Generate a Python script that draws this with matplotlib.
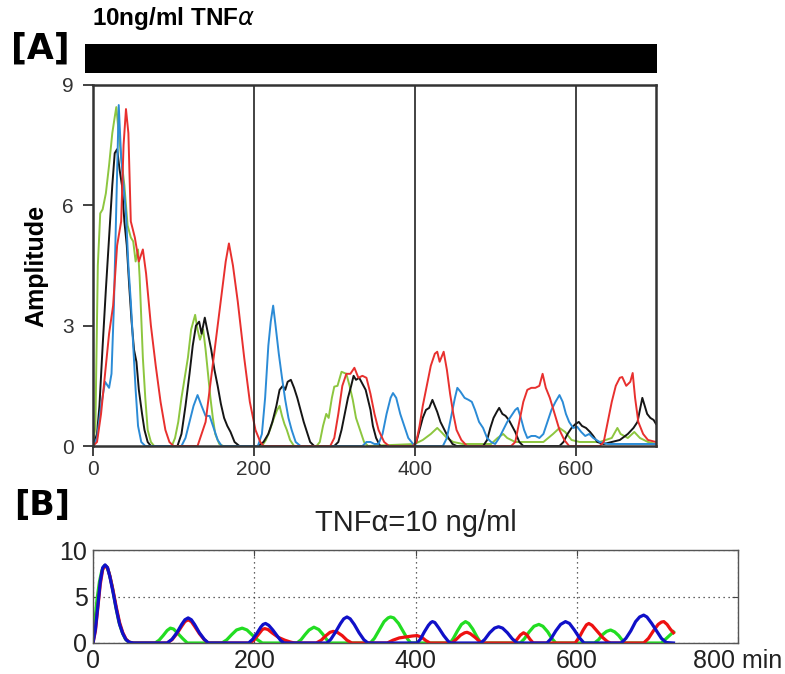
import matplotlib
matplotlib.use("Agg")
import matplotlib.pyplot as plt
from matplotlib.patches import Rectangle

# ---- panel A: measured amplitude traces (time in min) ----
red_t = [0, 5, 10, 15, 20, 25, 30, 35, 38, 41, 44, 47, 52, 57, 62, 66, 72, 78, 84, 90, 95, 100,
         130, 140, 150, 160, 165, 169, 174, 180, 188, 195, 202, 208, 212,
         295, 300, 305, 310, 315, 320, 325, 330, 335, 340, 345, 350, 355, 362, 368,
         398, 402, 406, 410, 415, 420, 425, 428, 431, 436, 440, 444, 448, 452, 458, 465,
         520, 525, 530, 535, 540, 545, 550, 555, 559, 563, 568, 574, 580, 586, 592,
         630, 635, 640, 645, 650, 655, 658, 663, 668, 671, 674, 678, 684, 690, 700]
red_v = [0, 0.1, 0.8, 1.8, 2.8, 3.5, 5.0, 5.6, 7.5, 8.4, 7.8, 5.6, 5.2, 4.6, 4.9, 4.3, 3.0, 2.0, 1.1, 0.4, 0.1, 0,
         0, 0.6, 2.2, 3.8, 4.6, 5.05, 4.5, 3.6, 2.2, 1.1, 0.4, 0.1, 0,
         0, 0.2, 0.8, 1.5, 1.8, 1.8, 1.95, 1.7, 1.75, 1.7, 1.3, 0.8, 0.4, 0.1, 0,
         0, 0.1, 0.5, 1.0, 1.5, 2.0, 2.3, 2.35, 2.1, 2.35, 1.9, 1.3, 0.8, 0.4, 0.15, 0,
         0, 0.1, 0.6, 1.1, 1.4, 1.45, 1.45, 1.5, 1.8, 1.45, 1.2, 0.8, 0.4, 0.15, 0,
         0, 0.1, 0.6, 1.1, 1.5, 1.7, 1.72, 1.5, 1.6, 1.82, 1.2, 0.6, 0.3, 0.15, 0.1]

blue_t = [0, 5, 10, 15, 20, 23, 26, 29, 32, 35, 38, 41, 44, 47, 50, 53, 56, 60, 65,
          110, 115, 120, 125, 130, 135, 140, 145, 150, 155, 160,
          205, 210, 214, 218, 221, 224, 227, 231, 235, 239, 243, 247, 252, 258,
          335, 340, 345, 350, 355, 360, 365, 370, 373, 377, 382, 387, 392, 398, 403,
          435, 440, 445, 450, 453, 457, 462, 467, 471, 475, 480, 485, 490, 495,
          500, 505, 510, 515, 520, 525, 528, 532, 536, 540, 545, 550, 555, 560, 565, 570, 575,
          580, 584, 588, 592, 597, 602, 607, 612, 617, 622, 630, 640, 700]
blue_v = [0, 0.2, 1.0, 1.6, 1.45, 1.8, 3.5, 6.0, 8.5, 7.2, 6.5, 5.8, 4.5, 3.6, 2.5, 1.4, 0.5, 0.1, 0,
          0, 0.2, 0.6, 1.0, 1.27, 1.0, 0.75, 0.75, 0.45, 0.15, 0,
          0, 0.3, 1.2, 2.5, 3.1, 3.5, 3.0, 2.3, 1.7, 1.15, 0.7, 0.4, 0.1, 0,
          0, 0.1, 0.1, 0.05, 0.05, 0.3, 0.8, 1.2, 1.32, 1.2, 0.8, 0.5, 0.2, 0.05, 0,
          0, 0.2, 0.7, 1.2, 1.45, 1.35, 1.2, 1.15, 1.1, 0.9, 0.6, 0.45, 0.2, 0.1,
          0.05, 0.2, 0.4, 0.6, 0.75, 0.9, 0.95, 0.7, 0.4, 0.2, 0.25, 0.25, 0.2, 0.3, 0.6, 0.9, 1.1,
          1.27, 1.1, 0.8, 0.6, 0.45, 0.48, 0.35, 0.25, 0.3, 0.2, 0.1, 0.05, 0.05]

green_t = [0, 3, 6, 9, 12, 16, 20, 24, 27, 29, 32, 35, 39, 43, 47, 50, 53, 56, 58, 60, 62, 65, 68, 72, 76,
           98, 102, 106, 110, 114, 118, 122, 127, 130, 133, 137, 140, 143, 146, 149, 152, 157, 162,
           210, 215, 220, 225, 229, 232, 235, 238, 241, 245, 250,
           278, 282, 286, 290, 293, 297, 300, 304, 309, 315, 319, 323, 327, 332, 337, 342,
           400, 410, 420, 428, 433, 440, 448, 460, 495, 503, 510, 515, 525, 560, 572, 580, 587, 595,
           605, 630, 645, 652, 656, 665, 673, 680, 690, 700]
green_v = [0, 0.5, 4.5, 5.8, 5.9, 6.3, 7.0, 7.8, 8.2, 8.45, 7.8, 7.2, 6.5, 5.5, 5.2, 5.1, 4.6, 4.9, 4.2, 3.2, 2.2, 1.2, 0.4, 0.1, 0,
           0, 0.2, 0.6, 1.2, 1.7, 2.2, 2.9, 3.27, 2.9, 2.65, 2.9, 2.4, 1.8, 1.2, 0.7, 0.3, 0.05, 0,
           0, 0.15, 0.4, 0.7, 0.9, 1.0, 0.75, 0.55, 0.4, 0.15, 0,
           0, 0.1, 0.5, 0.8, 0.7, 1.2, 1.48, 1.5, 1.85, 1.8, 1.5, 1.15, 0.7, 0.4, 0.1, 0,
           0.05, 0.15, 0.3, 0.45, 0.35, 0.2, 0.1, 0.05, 0.05, 0.2, 0.3, 0.2, 0.1, 0.1, 0.3, 0.45, 0.35, 0.15,
           0.1, 0.1, 0.2, 0.45, 0.3, 0.2, 0.35, 0.2, 0.1, 0.05]

black_t = [0, 5, 8, 12, 16, 20, 24, 27, 30, 33, 36, 39, 42, 45, 48, 51, 54, 57, 61, 64, 68, 72,
           105, 110, 115, 120, 124, 128, 132, 135, 139, 143, 147, 151, 155, 159, 163, 167, 171, 176, 182,
           205, 212, 218, 223, 228, 232, 236, 239, 242, 246, 250, 254, 258, 262, 266, 270, 275,
           300, 305, 309, 313, 317, 321, 324, 327, 331, 335, 339, 342, 345, 348, 352, 357,
           398, 402, 406, 410, 414, 418, 422, 425, 428, 432, 437, 442, 447, 452,
           485, 490, 494, 498, 502, 505, 509, 513, 517, 521, 525, 530, 535,
           580, 585, 590, 595, 600, 604, 608, 613, 618, 622, 627, 635,
           645, 655, 665, 672, 677, 680, 683, 686, 689, 693, 697, 700]
black_v = [0, 0.3, 1.0, 2.5, 3.9, 5.2, 6.5, 7.3, 7.4, 6.9, 6.5, 5.6, 5.0, 4.0, 3.1, 2.4, 2.1, 1.4, 0.8, 0.4, 0.1, 0,
           0, 0.3, 1.0, 1.8, 2.5, 3.0, 3.1, 2.8, 3.2, 2.8, 2.4, 1.9, 1.5, 1.05, 0.7, 0.5, 0.35, 0.1, 0,
           0, 0.1, 0.3, 0.6, 1.0, 1.4, 1.5, 1.4, 1.6, 1.65, 1.45, 1.2, 0.9, 0.6, 0.35, 0.1, 0,
           0, 0.1, 0.4, 0.8, 1.2, 1.5, 1.75, 1.65, 1.7, 1.55, 1.4, 1.15, 0.9, 0.5, 0.2, 0,
           0, 0.1, 0.4, 0.7, 0.9, 0.95, 1.15, 1.0, 0.85, 0.6, 0.4, 0.2, 0.05, 0,
           0, 0.15, 0.45, 0.7, 0.85, 0.95, 0.8, 0.75, 0.65, 0.5, 0.35, 0.1, 0,
           0, 0.1, 0.3, 0.45, 0.55, 0.6, 0.5, 0.45, 0.35, 0.25, 0.1, 0.05,
           0.1, 0.15, 0.3, 0.45, 0.6, 0.9, 1.2, 1.0, 0.8, 0.7, 0.65, 0.55]

# ---- panel B: simulation traces ----
simR_t = [0, 3, 6, 9, 12, 15, 18, 21, 25, 29, 33, 37, 41, 45, 50,
          92, 98, 104, 110, 114, 118, 122, 126, 132, 138, 143,
          195, 200, 205, 210, 213, 217, 222, 230, 238, 245, 250,
          277, 283, 289, 294, 298, 303, 309, 315, 321,
          365, 372, 380, 388, 396, 402, 408, 413, 418,
          445, 450, 456, 461, 464, 468, 474, 479, 483,
          522, 526, 530, 534, 538, 542, 546,
          598, 603, 608, 612, 615, 619, 625, 632, 638, 642,
          683, 689, 695, 701, 705, 708, 712, 716, 720]
simR_v = [0, 1.3, 3.8, 6.3, 7.9, 8.3, 8.1, 7.2, 5.6, 3.8, 2.2, 1.1, 0.4, 0.1, 0,
          0, 0.35, 1.0, 1.8, 2.3, 2.5, 2.3, 1.8, 1.0, 0.35, 0,
          0, 0.35, 0.9, 1.45, 1.55, 1.45, 1.1, 0.6, 0.3, 0.1, 0,
          0, 0.3, 0.8, 1.15, 1.25, 1.15, 0.8, 0.3, 0,
          0, 0.3, 0.55, 0.65, 0.75, 0.8, 0.6, 0.25, 0,
          0, 0.35, 0.85, 1.1, 1.15, 1.0, 0.6, 0.2, 0,
          0, 0.4, 0.85, 1.1, 0.9, 0.4, 0,
          0, 0.6, 1.4, 1.95, 2.1, 1.9, 1.3, 0.6, 0.15, 0,
          0, 0.5, 1.3, 2.0, 2.25, 2.3, 2.0, 1.5, 1.1]

simG_t = [0, 2, 5, 8, 11, 14, 17, 20, 24, 28, 32, 36, 40, 44, 50,
          77, 82, 87, 92, 96, 100, 105, 111, 117,
          160, 166, 172, 178, 185, 191, 197, 204, 210,
          253, 258, 263, 268, 274, 280, 285, 290, 294,
          344, 349, 355, 361, 366, 369, 373, 379, 385, 390, 394,
          443, 447, 452, 457, 462, 466, 471, 476, 481,
          530, 535, 541, 547, 553, 558, 564, 569, 574,
          622, 627, 632, 637, 642, 647, 652, 656, 660,
          705, 710, 715, 720]
simG_v = [0, 2.0, 4.7, 6.6, 7.8, 8.3, 8.2, 7.5, 6.0, 4.0, 2.3, 1.2, 0.45, 0.1, 0,
          0, 0.3, 0.8, 1.35, 1.6, 1.5, 1.05, 0.5, 0,
          0, 0.35, 0.9, 1.4, 1.6, 1.4, 0.9, 0.35, 0,
          0, 0.35, 0.9, 1.4, 1.7, 1.45, 0.95, 0.35, 0,
          0, 0.5, 1.4, 2.3, 2.7, 2.8, 2.7, 2.1, 1.2, 0.45, 0,
          0, 0.5, 1.3, 2.0, 2.3, 2.1, 1.5, 0.7, 0,
          0, 0.45, 1.2, 1.8, 2.0, 1.8, 1.2, 0.5, 0,
          0, 0.35, 0.9, 1.25, 1.4, 1.2, 0.8, 0.35, 0,
          0, 0.4, 0.8, 1.2]

simB_t = [0, 3, 6, 9, 12, 15, 18, 21, 25, 29, 33, 37, 41, 45, 50,
          92, 98, 104, 110, 114, 118, 122, 126, 132, 138, 143,
          193, 198, 203, 208, 211, 214, 218, 223, 229, 233, 237,
          290, 295, 301, 307, 311, 315, 319, 324, 330, 336, 341,
          402, 406, 411, 416, 419, 421, 424, 429, 435, 440, 443,
          481, 486, 492, 498, 503, 508, 514, 520, 526,
          563, 568, 574, 580, 586, 591, 597, 603, 609,
          655, 661, 667, 673, 678, 683, 687, 693, 699, 705, 711, 720]
simB_v = [0, 1.5, 4.0, 6.6, 8.1, 8.4, 8.1, 7.1, 5.4, 3.6, 2.0, 1.0, 0.35, 0.08, 0,
          0, 0.4, 1.1, 2.0, 2.5, 2.7, 2.5, 2.0, 1.1, 0.4, 0,
          0, 0.4, 1.0, 1.7, 2.0, 2.1, 1.9, 1.4, 0.7, 0.25, 0,
          0, 0.4, 1.2, 2.1, 2.6, 2.8, 2.6, 2.0, 1.1, 0.35, 0,
          0, 0.4, 1.2, 1.9, 2.2, 2.3, 2.2, 1.6, 0.8, 0.25, 0,
          0, 0.4, 1.1, 1.6, 1.75, 1.6, 1.1, 0.45, 0,
          0, 0.45, 1.3, 2.0, 2.3, 2.1, 1.4, 0.6, 0,
          0, 0.5, 1.3, 2.3, 2.8, 3.0, 2.8, 2.1, 1.3, 0.5, 0.05, 0]

A_yticks = [0, 3, 6, 9]
A_xticks = [0, 200, 400, 600]
A_vlines = [200, 400, 600]
B_xticks = [0, 200, 400, 600, 800]
B_xlabels = ["0", "200", "400", "600", "800 min"]
B_yticks = [0, 5, 10]

W, H = 785, 674
fig = plt.figure(figsize=(W / 100, H / 100), dpi=100)
sans = ["Liberation Sans", "DejaVu Sans"]

# ---------------- panel A ----------------
ax = fig.add_axes([93 / W, 1 - 446 / H, (656 - 93) / W, (446 - 85) / H])
ax.plot(green_t, green_v, color="#8dc63f", lw=1.4)
ax.plot(black_t, black_v, color="#151515", lw=1.4)
ax.plot(blue_t, blue_v, color="#2b8bd6", lw=1.4)
ax.plot(red_t, red_v, color="#e8302e", lw=1.4)
for x in A_vlines:
    ax.axvline(x, color="#222222", lw=1.2)
ax.set_xlim(0, 700)
ax.set_ylim(0, 9)
ax.set_xticks(A_xticks)
ax.set_yticks(A_yticks)
ax.tick_params(direction="out", length=7, width=1.3, color="#333333",
               labelsize=15, labelcolor="#333333")
ax.tick_params(axis="y", pad=7)
ax.tick_params(axis="x", pad=3)
for lab in ax.get_xticklabels() + ax.get_yticklabels():
    lab.set_family(sans)
for sp in ax.spines.values():
    sp.set_linewidth(1.8)
    sp.set_color("#333333")
ax.set_ylabel("Amplitude", fontsize=18, fontweight="bold", family=sans, labelpad=10)

# black stimulus bar
fig.patches.append(Rectangle((85 / W, 1 - 73 / H), (657 - 85) / W, 29 / H,
                             transform=fig.transFigure, facecolor="black", edgecolor="none"))
fig.text(92 / W, 1 - 19 / H, "10ng/ml TNF$\\alpha$", fontsize=17.5, fontweight="bold",
         family=sans, ha="left", va="center")
fig.text(40 / W, 1 - 49 / H, "[A]", fontsize=25, fontweight="bold",
         family="DejaVu Sans", ha="center", va="center")

# ---------------- panel B ----------------
bx = fig.add_axes([93 / W, 1 - 643 / H, (738 - 93) / W, (643 - 550) / H])
bx.plot(simG_t, simG_v, color="#22dd22", lw=2.3)
bx.plot(simR_t, simR_v, color="#ee1111", lw=2.3)
bx.plot(simB_t, simB_v, color="#1010c8", lw=2.3)
bx.set_xlim(0, 800)
bx.set_ylim(0, 10)
bx.set_xticks(B_xticks)
bx.set_xticklabels(B_xlabels)
bx.set_yticks(B_yticks)
bx.grid(True, linestyle=(0, (1, 3)), color="#333333", lw=0.9)
bx.tick_params(direction="in", length=4, top=True, right=True, color="#444444",
               labelsize=18, labelcolor="#222222", pad=4)
for lab in bx.get_xticklabels() + bx.get_yticklabels():
    lab.set_family(sans)
for sp in bx.spines.values():
    sp.set_linewidth(1.0)
    sp.set_color("#555555")
bx.set_title("TNFα=10 ng/ml", fontsize=21, family=sans, pad=14, color="#222222")
fig.text(42 / W, 1 - 505 / H, "[B]", fontsize=24, fontweight="bold",
         family="DejaVu Sans", ha="center", va="center")

fig.savefig("out.png", dpi=100)
